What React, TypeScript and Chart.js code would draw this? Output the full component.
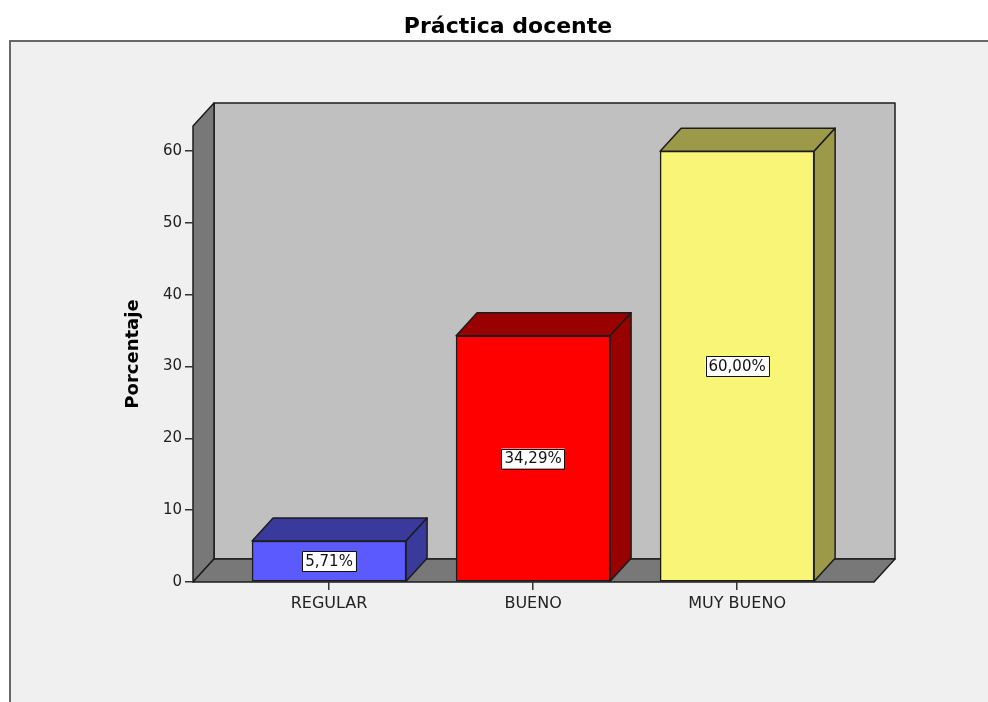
import { useEffect, useRef } from 'react';
import { Chart, registerables } from 'chart.js';

Chart.register(...registerables);

// Categories and their percentages
const categories = ['REGULAR', 'BUENO', 'MUY BUENO'];
const percentages = [5.71, 34.29, 60.0];
const yTickValues = [0, 10, 20, 30, 40, 50, 60];
const chartTitle = 'Práctica docente';

// Face colours of each bar: front face and shaded top/side faces
const frontColors = ['#5a5aff', '#ff0000', '#f9f576'];
const shadeColors = ['#3a3a9c', '#990000', '#9c9949'];

const FONT = "'DejaVu Sans', sans-serif";
const OUTLINE = '#1c1c1c';
const DX = 21; // depth offset of the 3D box
const DY = -23;

type Pt = [number, number];

function poly(ctx: CanvasRenderingContext2D, pts: Pt[], fill: string) {
  ctx.beginPath();
  ctx.moveTo(pts[0][0], pts[0][1]);
  for (let i = 1; i < pts.length; i++) ctx.lineTo(pts[i][0], pts[i][1]);
  ctx.closePath();
  ctx.fillStyle = fill;
  ctx.fill();
  ctx.strokeStyle = OUTLINE;
  ctx.lineWidth = 1.5;
  ctx.lineJoin = 'round';
  ctx.stroke();
}

const formatPct = (v: number) => v.toFixed(2).replace('.', ',') + '%';

const box3d = {
  id: 'box3d',
  beforeDraw(chart: any) {
    const { ctx, width, height } = chart;
    const { left: L, right: R, top: T, bottom: B } = chart.chartArea;
    ctx.save();
    ctx.fillStyle = '#ffffff';
    ctx.fillRect(0, 0, width, height);
    // title above the panel
    ctx.fillStyle = '#000';
    ctx.font = `bold 22px ${FONT}`;
    ctx.textAlign = 'center';
    ctx.textBaseline = 'middle';
    ctx.fillText(chartTitle, 508, 27);
    // panel
    ctx.fillStyle = '#f0f0f0';
    ctx.fillRect(10, 41, width - 10, height - 41);
    ctx.strokeStyle = '#686868';
    ctx.lineWidth = 2;
    ctx.beginPath();
    ctx.moveTo(10, height);
    ctx.lineTo(10, 41);
    ctx.lineTo(width, 41);
    ctx.stroke();
    // back wall, side wall, floor
    poly(ctx, [[L + DX, T + DY], [R + DX, T + DY], [R + DX, B + DY], [L + DX, B + DY]], '#c0c0c0');
    poly(ctx, [[L, T], [L + DX, T + DY], [L + DX, B + DY], [L, B]], '#787878');
    poly(ctx, [[L, B], [L + DX, B + DY], [R + DX, B + DY], [R, B]], '#787878');
    ctx.restore();
  },
  afterDatasetsDraw(chart: any) {
    const { ctx } = chart;
    const meta = chart.getDatasetMeta(0);
    ctx.save();
    meta.data.forEach((bar: any, i: number) => {
      const half = bar.width / 2;
      const l = bar.x - half;
      const r = bar.x + half;
      const t = bar.y;
      const b = bar.base;
      poly(ctx, [[l, t], [l + DX, t + DY], [r + DX, t + DY], [r, t]], shadeColors[i]);
      poly(ctx, [[r, t], [r + DX, t + DY], [r + DX, b + DY], [r, b]], shadeColors[i]);

      // value label in the middle of the front face
      const text = formatPct(percentages[i]);
      ctx.font = `15px ${FONT}`;
      const w = ctx.measureText(text).width + 6;
      const h = 20;
      const cx = bar.x;
      const cy = (t + b) / 2;
      ctx.fillStyle = '#ffffff';
      ctx.fillRect(cx - w / 2, cy - h / 2, w, h);
      ctx.strokeStyle = '#111';
      ctx.lineWidth = 1;
      ctx.strokeRect(Math.round(cx - w / 2) + 0.5, Math.round(cy - h / 2) + 0.5, Math.round(w), h);
      ctx.fillStyle = '#111';
      ctx.textAlign = 'center';
      ctx.textBaseline = 'middle';
      ctx.fillText(text, cx, cy + 1);
    });
    ctx.restore();
  },
};

export default function App() {
  const ref = useRef<HTMLCanvasElement | null>(null);

  useEffect(() => {
    if (!ref.current) return;
    const chart = new Chart(ref.current, {
      type: 'bar',
      data: {
        datasets: [
          {
            data: percentages.map((v, i) => ({ x: i, y: v })),
            backgroundColor: frontColors,
            borderColor: OUTLINE,
            borderWidth: 1.5,
            borderSkipped: false,
            barThickness: 154,
          },
        ],
      },
      options: {
        animation: false,
        responsive: false,
        maintainAspectRatio: false,
        devicePixelRatio: 1,
        layout: { padding: { left: 0, right: 114, top: 126, bottom: 0 } },
        plugins: {
          legend: { display: false },
          tooltip: { enabled: false },
          title: { display: false },
        },
        scales: {
          x: {
            type: 'linear',
            offset: false,
            min: -0.667,
            max: 2.671,
            afterBuildTicks: (scale: any) => {
              scale.ticks = categories.map((_, i) => ({ value: i }));
            },
            afterFit: (scale: any) => {
              scale.height = 120;
            },
            ticks: {
              callback: (v: any) => categories[v as number] ?? '',
              color: '#222',
              font: { family: FONT, size: 16 },
              padding: 4,
              maxRotation: 0,
            },
            grid: {
              offset: false,
              drawOnChartArea: false,
              drawTicks: true,
              tickLength: 8,
              color: '#333',
              lineWidth: 1.5,
            },
            border: { display: false },
          },
          y: {
            type: 'linear',
            min: 0,
            max: 63.5,
            afterBuildTicks: (scale: any) => {
              scale.ticks = yTickValues.map((v) => ({ value: v }));
            },
            afterFit: (scale: any) => {
              scale.width = 193;
            },
            ticks: {
              color: '#222',
              font: { family: FONT, size: 15 },
              padding: 3,
            },
            grid: {
              drawOnChartArea: false,
              drawTicks: true,
              tickLength: 8,
              color: '#333',
              lineWidth: 1.5,
            },
            border: { display: false },
            title: {
              display: true,
              text: 'Porcentaje',
              color: '#000',
              font: { family: FONT, size: 18, weight: 'bold' },
              padding: { top: 123, bottom: 0 },
            },
          },
        },
      },
      plugins: [box3d],
    });
    return () => chart.destroy();
  }, []);

  return (
    <div style={{ position: 'absolute', left: 0, top: 0, width: 988, height: 702 }}>
      <canvas ref={ref} width={988} height={702} style={{ display: 'block' }} />
    </div>
  );
}
